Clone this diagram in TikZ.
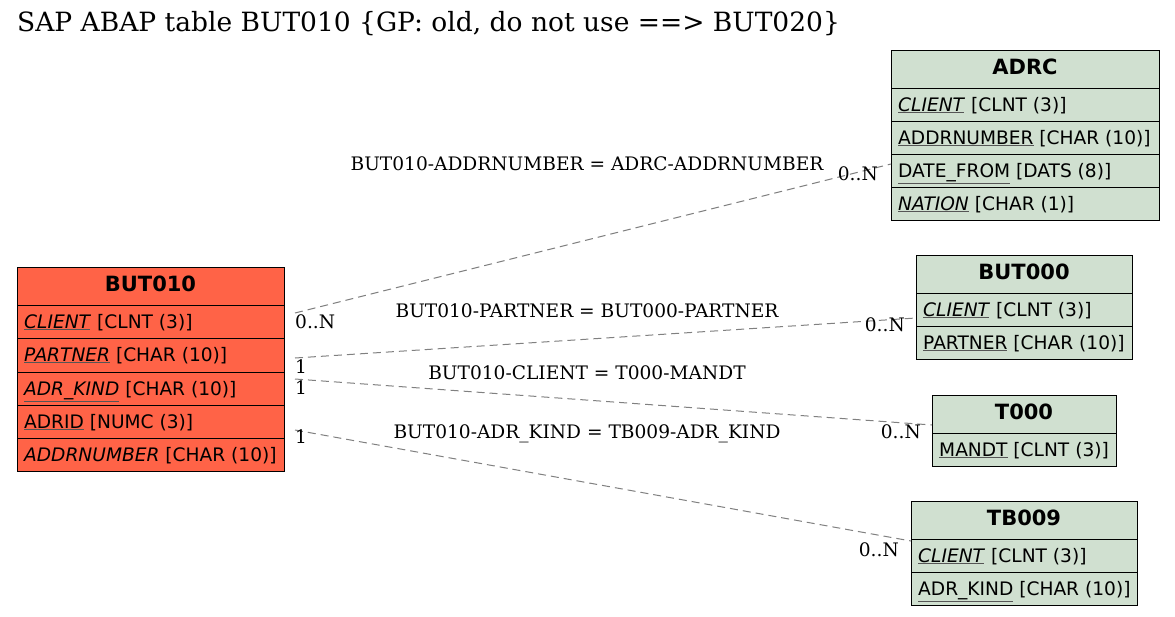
\documentclass[tikz,border=0pt]{standalone}
\usepackage{fontspec}
\setmainfont{DejaVu Serif}
\newfontfamily\tabfont{DejaVu Sans}
\usetikzlibrary{calc}
\definecolor{redfill}{HTML}{FF6347}
\definecolor{greenfill}{HTML}{D0E0D0}
\definecolor{linkgray}{HTML}{808080}
\definecolor{ulgray}{HTML}{555555}
\newcommand\ufld[1]{\rlap{\textcolor{ulgray}{\underline{\phantom{#1}}}}#1}
\newcommand\mkcell[7]{% name, x, y, w, h, fill, text
  \node[cellbox, fill=#6, minimum width=#4pt, minimum height=#5pt] (#1) at (#2,#3) {};
  \node[celltext] (#1-t) at ($(#1.north west)+(7,23)$) {#7};}
\newcommand\mkhead[7]{%
  \node[cellbox, fill=#6, minimum width=#4pt, minimum height=#5pt] (#1) at (#2,#3) {};
  \node[headtext] (#1-t) at ($(#1.north)+(0,24)$) {#7};}
\tikzset{
  cellbox/.style={draw=black, line width=1pt, anchor=north west, inner sep=0pt, outer sep=0pt},
  celltext/.style={anchor=base west, inner sep=0pt, font=\tabfont\fontsize{18.6}{21}\selectfont},
  headtext/.style={anchor=base, inner sep=0pt, font=\tabfont\bfseries\fontsize{21}{24}\selectfont},
  link/.style={draw=linkgray, line width=1pt, dash pattern=on 8pt off 5pt},
  rel/.style={anchor=base, font=\fontsize{18.6}{21}\selectfont, inner sep=0pt},
  card/.style={font=\fontsize{18.6}{21}\selectfont, inner sep=0pt},
}
\begin{document}
\begin{tikzpicture}[x=1pt,y=-1pt]
\useasboundingbox[fill=white] (0,0) rectangle (1175,616);
\node[anchor=base west, inner sep=0pt, font=\fontsize{26.5}{30}\selectfont] (title) at (17,31) {SAP ABAP table BUT010 \{GP: old, do not use ==> BUT020\}};

% BUT010
\mkhead{b10}{17}{267}{267}{38}{redfill}{BUT010}
\mkcell{b10r1}{17}{305}{267}{33}{redfill}{\textit{\ufld{CLIENT}} [CLNT (3)]}
\mkcell{b10r2}{17}{338}{267}{34}{redfill}{\textit{\ufld{PARTNER}} [CHAR (10)]}
\mkcell{b10r3}{17}{372}{267}{33}{redfill}{\textit{\ufld{ADR\_KIND}} [CHAR (10)]}
\mkcell{b10r4}{17}{405}{267}{33}{redfill}{\ufld{ADRID} [NUMC (3)]}
\mkcell{b10r5}{17}{438}{267}{33}{redfill}{\textit{ADDRNUMBER} [CHAR (10)]}

% ADRC
\mkhead{adrc}{891}{50}{268}{38}{greenfill}{ADRC}
\mkcell{adrcr1}{891}{88}{268}{33}{greenfill}{\textit{\ufld{CLIENT}} [CLNT (3)]}
\mkcell{adrcr2}{891}{121}{268}{33}{greenfill}{\ufld{ADDRNUMBER} [CHAR (10)]}
\mkcell{adrcr3}{891}{154}{268}{33}{greenfill}{\ufld{DATE\_FROM} [DATS (8)]}
\mkcell{adrcr4}{891}{187}{268}{33}{greenfill}{\textit{\ufld{NATION}} [CHAR (1)]}

% BUT000
\mkhead{b00}{916}{255}{216}{38}{greenfill}{BUT000}
\mkcell{b00r1}{916}{293}{216}{33}{greenfill}{\textit{\ufld{CLIENT}} [CLNT (3)]}
\mkcell{b00r2}{916}{326}{216}{33}{greenfill}{\ufld{PARTNER} [CHAR (10)]}

% T000
\mkhead{t000}{932}{395}{184}{38}{greenfill}{T000}
\mkcell{t000r1}{932}{433}{184}{33}{greenfill}{\ufld{MANDT} [CLNT (3)]}

% TB009
\mkhead{tb9}{911}{501}{226}{38}{greenfill}{TB009}
\mkcell{tb9r1}{911}{539}{226}{33}{greenfill}{\textit{\ufld{CLIENT}} [CLNT (3)]}
\mkcell{tb9r2}{911}{572}{226}{33}{greenfill}{\ufld{ADR\_KIND} [CHAR (10)]}

% connector ends
\coordinate (s1) at (295,313);
\coordinate (s2) at (295,358);
\coordinate (s3) at (295,379);
\coordinate (s4) at (295,430);
\coordinate (e1) at (adrcr3.west |- 0,164);
\coordinate (e2) at (b00r1.west |- 0,318);
\coordinate (e3) at (t000.west |- 0,425);
\coordinate (e4) at (tb9.west |- 0,541);

\draw[link] (s1) -- (e1);
\draw[link] (s2) -- (e2);
\draw[link] (s3) -- (e3);
\draw[link] (s4) -- (e4);

\node[rel] (l1) at (587,170) {BUT010-ADDRNUMBER = ADRC-ADDRNUMBER};
\node[rel] (l2) at (587,317) {BUT010-PARTNER = BUT000-PARTNER};
\node[rel] (l3) at (587,379) {BUT010-CLIENT = T000-MANDT};
\node[rel] (l4) at (587,438) {BUT010-ADR\_KIND = TB009-ADR\_KIND};

\node[card, anchor=base west] (c1s) at (295,328) {0..N};
\node[card, anchor=base west] (c2s) at (295,373) {1};
\node[card, anchor=base west] (c3s) at (295,394) {1};
\node[card, anchor=base west] (c4s) at (295,443) {1};
\node[card, anchor=base east] (c1e) at (878,180) {0..N};
\node[card, anchor=base east] (c2e) at (905,331) {0..N};
\node[card, anchor=base east] (c3e) at (921,438) {0..N};
\node[card, anchor=base east] (c4e) at (899,556) {0..N};
\end{tikzpicture}
\end{document}
